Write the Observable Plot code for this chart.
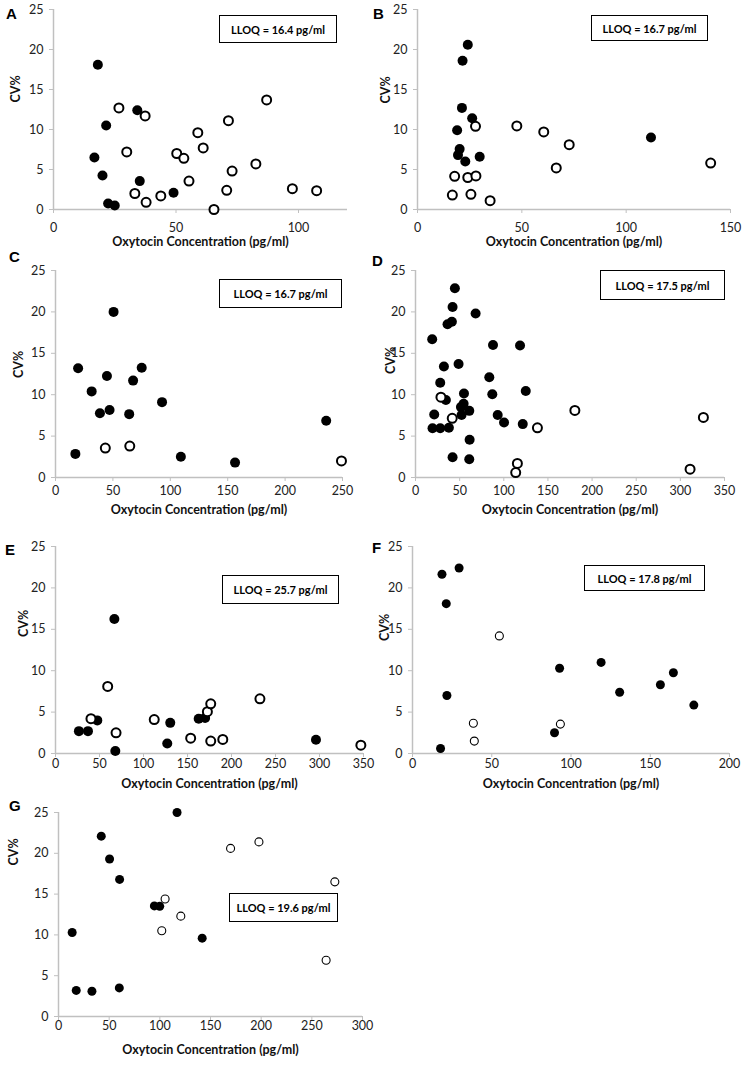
<!DOCTYPE html>
<html><head><meta charset="utf-8">
<script src="https://cdn.jsdelivr.net/npm/d3@7"></script>
<script src="https://cdn.jsdelivr.net/npm/@observablehq/plot@0.6"></script>
<style>
body{margin:0;background:#fff;}
#fig{position:relative;width:743px;height:1065px;overflow:hidden;font-family:Lato,sans-serif;background:#fff;}
.panel{position:absolute;}
.panel svg{overflow:visible;}
.letter{position:absolute;font:bold 15px "Liberation Sans",Arial,sans-serif;line-height:15px;color:#000;}
.lloq{position:absolute;border:1.5px solid #000;box-sizing:border-box;display:flex;align-items:center;justify-content:center;font:bold 11px Lato,sans-serif;color:#000;background:#fff;}
</style></head><body><div id="fig"></div><script>
// ---- data: [oxytocin concentration pg/ml, CV%] ----
const aFilled = [[16.7,6.5],[18.1,18.1],[20,4.25],[21.5,10.5],[22.3,0.75],[25,0.5],[34.2,12.4],[35.2,3.55],[49,2.1]];
const aOpen = [[26.7,12.7],[29.9,7.2],[33.2,2],[37.4,11.7],[37.8,0.9],[43.8,1.7],[50.3,7],[53.2,6.4],[55.3,3.55],[58.9,9.6],[61.1,7.7],[65.5,0],[70.7,2.4],[71.4,11.1],[72.9,4.8],[82.6,5.7],[87,13.7],[97.5,2.6],[107.4,2.35]];
const bFilled = [[24.1,20.6],[21.6,18.6],[21.3,12.7],[26.2,11.4],[19,9.9],[20.2,7.55],[19.4,6.8],[22.9,6.0],[29.8,6.6],[111.9,9.0]];
const bOpen = [[16.7,1.8],[17.8,4.15],[24.1,4.0],[25.6,1.9],[28,4.2],[27.8,10.4],[34.8,1.1],[47.6,10.45],[60.5,9.7],[66.5,5.2],[72.7,8.1],[140.5,5.8]];
const cFilled = [[17.3,2.85],[19.7,13.2],[31.5,10.4],[38.7,7.75],[44.8,12.25],[47.1,8.15],[50.6,20],[64.2,7.65],[67.6,11.7],[75.1,13.25],[92.8,9.1],[109.2,2.5],[156.4,1.8],[235.8,6.85]];
const cOpen = [[43.4,3.55],[64.7,3.8],[249.1,2.0]];
const dFilled = [[44.6,22.85],[42,20.6],[36.3,18.5],[41.2,18.8],[68.1,19.8],[18.9,16.7],[87.8,16.0],[118.4,15.95],[32.2,13.4],[48.8,13.7],[83.6,12.1],[28,11.45],[124.9,10.45],[87,10.05],[54.9,10.15],[34.4,9.35],[21.2,7.6],[19.3,5.95],[28,5.95],[37.8,6.0],[54.5,8.9],[51.5,8.5],[52.2,7.55],[60.9,8.05],[93.1,7.55],[100.3,6.65],[121.5,6.45],[61.3,4.55],[42,2.45],[60.9,2.2]];
const dOpen = [[28.8,9.7],[41.6,7.15],[138.1,6.0],[180.5,8.1],[115.4,1.7],[113.5,0.6],[311,1.0],[326.1,7.25]];
const eFilled = [[26.6,2.7],[36.9,2.7],[47.5,4.0],[66.9,16.25],[68,0.3],[127,1.2],[130.4,3.7],[162.7,4.2],[170,4.3],[296,1.65]];
const eOpen = [[40.3,4.2],[59.3,8.1],[68.8,2.5],[112.2,4.1],[153.6,1.85],[172.6,5.05],[176.4,6.0],[176.4,1.5],[190.1,1.7],[232.3,6.6],[347,1.0]];
const fFilled = [[18.6,21.65],[29.4,22.4],[21.3,18.1],[21.7,7.0],[17.7,0.6],[89.6,2.5],[92.8,10.3],[119,11.0],[130.7,7.4],[156.4,8.3],[164.6,9.75],[177.5,5.85]];
const fOpen = [[54.8,14.2],[38.4,3.65],[39,1.5],[93.3,3.55]];
const gFilled = [[13.5,10.3],[17.5,3.2],[33,3.1],[42.2,22.1],[50.4,19.3],[60.3,16.8],[60,3.5],[94.6,13.55],[99.9,13.5],[117,25],[141.8,9.6]];
const gOpen = [[101.9,10.5],[105.2,14.4],[120.7,12.3],[169.8,20.6],[197.8,21.4],[264.1,6.9],[272.7,16.5]];

const panelLetters = ["A","B","C","D","E","F","G"];
const lloqLabels = ["LLOQ = 16.4 pg/ml","LLOQ = 16.7 pg/ml","LLOQ = 16.7 pg/ml","LLOQ = 17.5 pg/ml","LLOQ = 25.7 pg/ml","LLOQ = 17.8 pg/ml","LLOQ = 19.6 pg/ml"];
const xMaxima = [120,150,250,350,350,200,300];
const xSteps = [50,50,50,50,50,50,50];
const yTicks = [0,5,10,15,20,25];
const xTitle = "Oxytocin Concentration (pg/ml)";
const yTitle = "CV%";

// ---- layout ----
const layout = [
  {left:0,top:0,w:372,h:260,ml:53,mr:25,mt:9,mb:51,pad:10,tdy:36,cvdx:-38,cvdy:-7,let:[6,6],box:[219,15,118,28],thin:false},
  {left:372,top:0,w:371,h:260,ml:45,mr:13,mt:9,mb:51,pad:10,tdy:36,cvdx:-32,cvdy:-6,let:[373,6],box:[591,15,117,26],thin:false},
  {left:0,top:250,w:372,h:275,ml:55,mr:30,mt:20,mb:48,pad:5,tdy:36,cvdx:-37,cvdy:4,let:[9,249],box:[219,279,123,29],thin:false},
  {left:372,top:250,w:371,h:275,ml:43,mr:19,mt:20,mb:48,pad:5,tdy:36,cvdx:-25,cvdy:0,let:[372,253],box:[600,270,125,30],thin:false},
  {left:0,top:530,w:372,h:270,ml:55,mr:9,mt:16,mb:47,pad:2,tdy:34,cvdx:-32,cvdy:-13,let:[5,542],box:[222,575,117,29],thin:false},
  {left:372,top:530,w:371,h:270,ml:40,mr:14,mt:16,mb:47,pad:2,tdy:34,cvdx:-28,cvdy:-9,let:[372,540],box:[584,565,121,26],thin:true},
  {left:0,top:790,w:372,h:275,ml:58,mr:10,mt:22,mb:49,pad:1,tdy:37,cvdx:-45,cvdy:-49,let:[9,798],box:[229,893,109,29],thin:true}
];

const filledSets = [aFilled,bFilled,cFilled,dFilled,eFilled,fFilled,gFilled];
const openSets = [aOpen,bOpen,cOpen,dOpen,eOpen,fOpen,gOpen];

const fig = document.getElementById("fig");
layout.forEach((L,i) => {
  const xmax = xMaxima[i];
  const xt = d3.range(0, xmax + 1, xSteps[i]);
  const chart = Plot.plot({
    width: L.w, height: L.h,
    marginLeft: L.ml, marginRight: L.mr, marginTop: L.mt, marginBottom: L.mb,
    style: {fontFamily: "Lato, sans-serif", fontSize: "12.5px", color: "#222", background: "transparent"},
    x: {domain: [0, xmax]},
    y: {domain: [0, 25]},
    marks: [
      Plot.ruleY([0], {stroke: "#c0c0c0", strokeWidth: 1.5}),
      Plot.ruleX([0], {stroke: "#c0c0c0", strokeWidth: 1.5}),
      Plot.axisX({ticks: xt, tickSize: 4, tickPadding: L.pad, stroke: "#c0c0c0", fill: "#222", label: null}),
      Plot.axisY({ticks: yTicks, tickSize: 4, tickPadding: 6, stroke: "#c0c0c0", fill: "#222", label: null}),
      Plot.text([xTitle], {frameAnchor: "bottom", dy: L.tdy, fontWeight: "bold", fontSize: 12.5, fill: "#111"}),
      Plot.text([yTitle], {frameAnchor: "left", dx: L.cvdx, dy: L.cvdy, rotate: -90, fontWeight: "bold", fontSize: 12.5, fill: "#111"}),
      Plot.dot(filledSets[i], {x: d => d[0], y: d => d[1], r: L.thin ? 4.5 : 5, fill: "#000", stroke: "none"}),
      Plot.dot(openSets[i], {x: d => d[0], y: d => d[1], r: L.thin ? 4 : 4.5, fill: "#fff", stroke: "#000", strokeWidth: L.thin ? 1.1 : 2})
    ]
  });
  const div = document.createElement("div");
  div.className = "panel";
  div.style.left = L.left + "px";
  div.style.top = L.top + "px";
  div.appendChild(chart);
  fig.appendChild(div);

  const lt = document.createElement("div");
  lt.className = "letter";
  lt.style.left = L.let[0] + "px";
  lt.style.top = L.let[1] + "px";
  lt.textContent = panelLetters[i];
  fig.appendChild(lt);

  const bx = document.createElement("div");
  bx.className = "lloq";
  bx.style.left = L.box[0] + "px";
  bx.style.top = L.box[1] + "px";
  bx.style.width = L.box[2] + "px";
  bx.style.height = L.box[3] + "px";
  bx.textContent = lloqLabels[i];
  fig.appendChild(bx);
});
</script></body></html>
